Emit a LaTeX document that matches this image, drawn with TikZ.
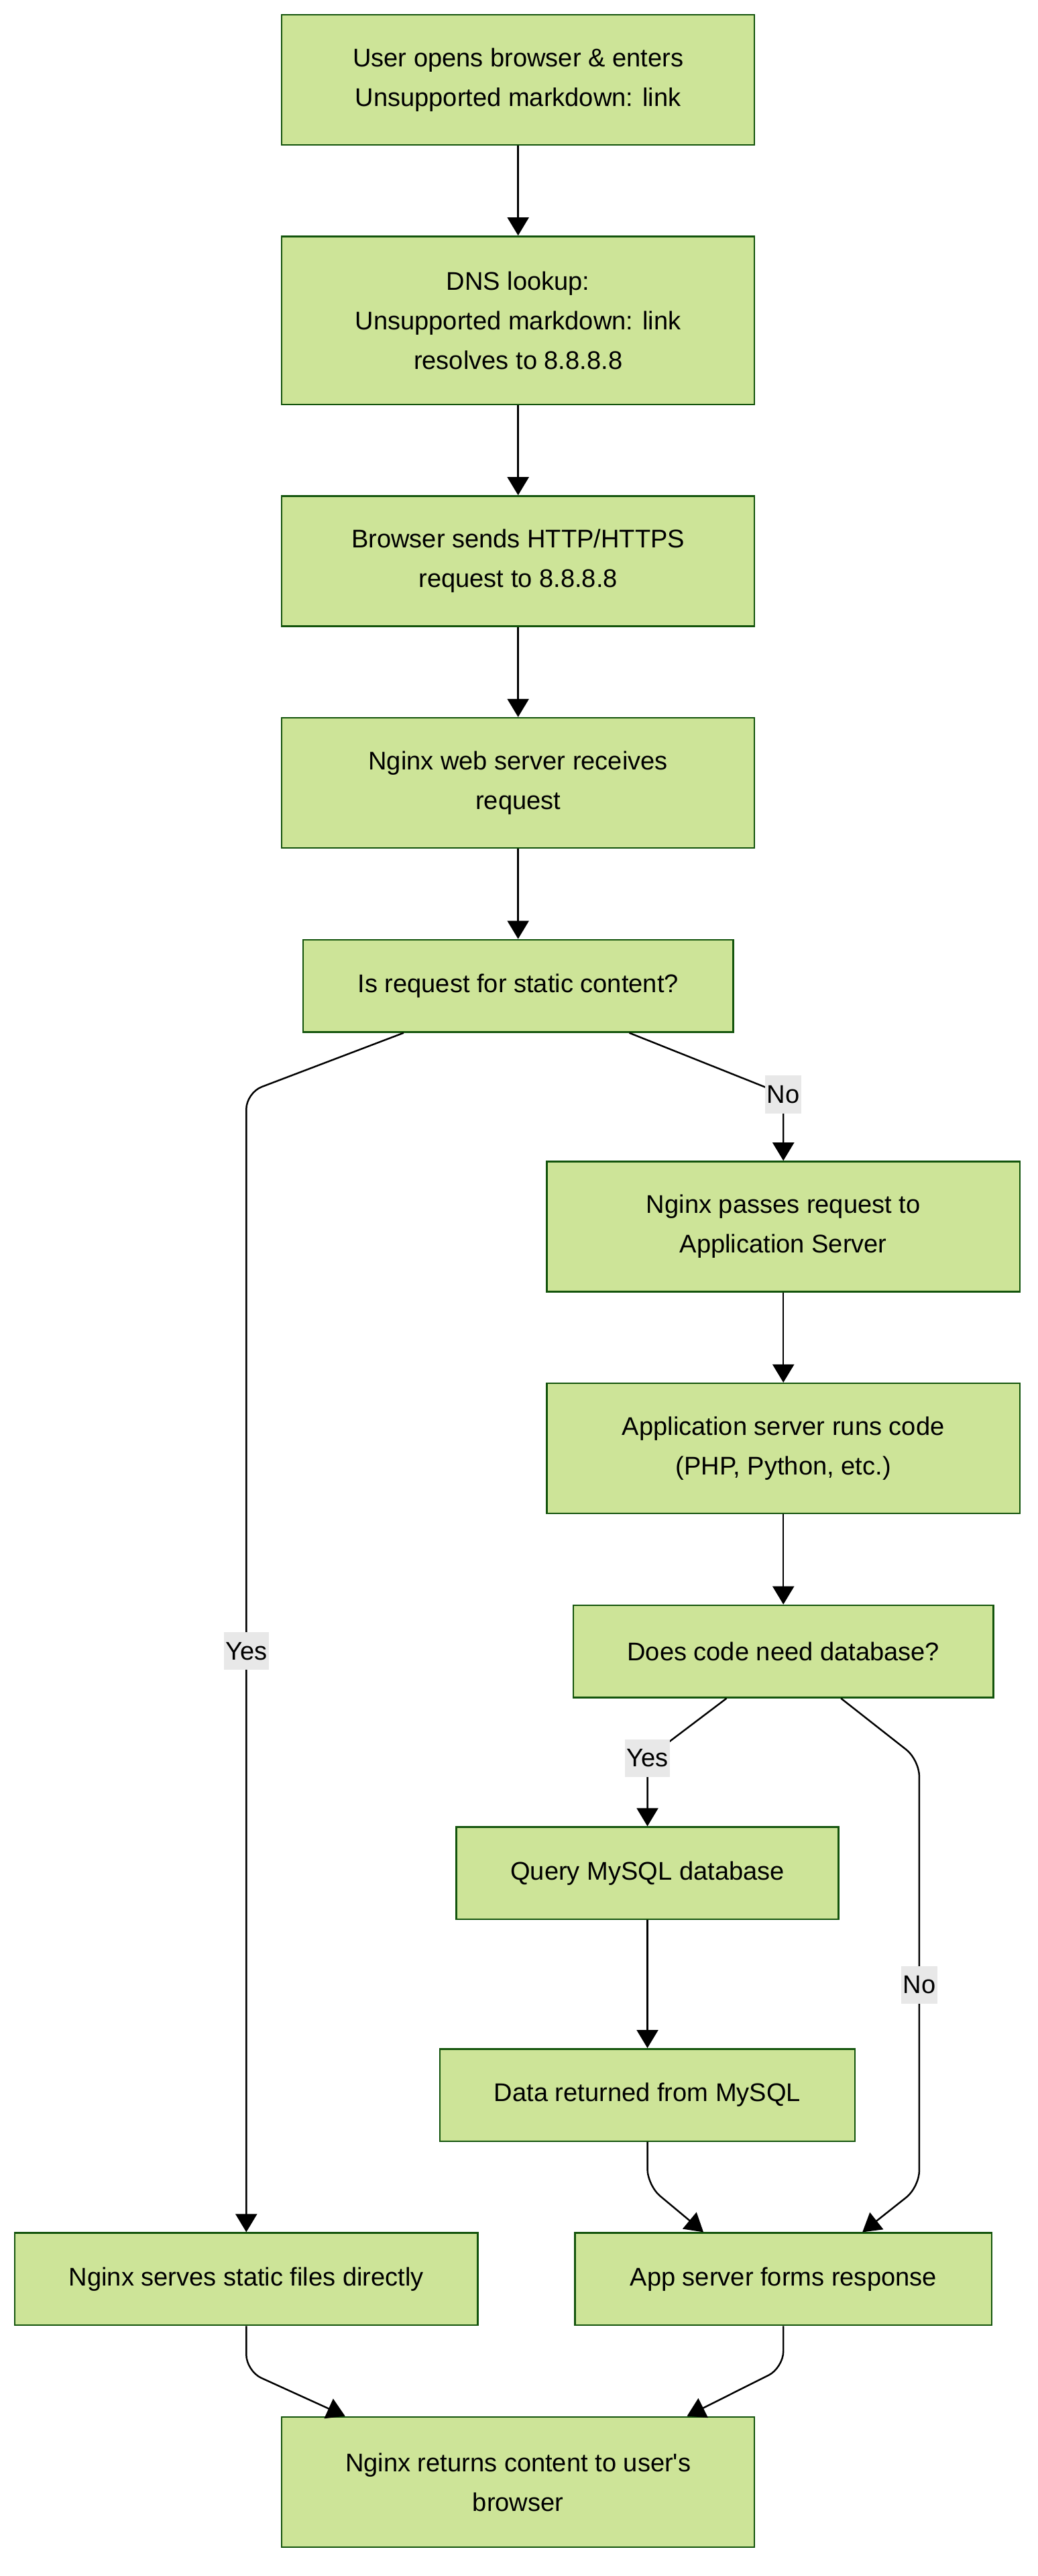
\documentclass[tikz,border=0pt]{standalone}
\usepackage{fontspec}
\setmainfont{Liberation Sans}
\usetikzlibrary{arrows.meta}
\definecolor{boxfill}{HTML}{CDE498}
\definecolor{boxline}{HTML}{13540C}
\definecolor{lblfill}{HTML}{E8E8E8}
\begin{document}
\begin{tikzpicture}[x=1pt,y=-0.997pt,
      box/.style={draw=boxline, fill=boxfill, line width=1pt, align=center, inner sep=0pt, font=\fontsize{15.5}{24}\selectfont},
      lbl/.style={sharp corners, fill=lblfill, inner xsep=1pt, inner ysep=0pt, minimum height=23pt, font=\fontsize{15.5}{24}\selectfont},
      arr/.style={-{Triangle[length=11pt,width=13pt]}, line width=1pt, rounded corners=10pt}]
         \useasboundingbox (0,0) rectangle (630,1567.7);

         \node[box, minimum width=287pt, minimum height=79pt] (open) at (314.5,48.5) {User opens browser \& enters\\ Unsupported markdown: link};
         \node[box, minimum width=287pt, minimum height=102pt] (dns) at (314.5,195) {DNS lookup:\\ Unsupported markdown: link\\ resolves to 8.8.8.8};
         \node[box, minimum width=287pt, minimum height=79pt] (send) at (314.5,341.5) {Browser sends HTTP/HTTPS\\ request to 8.8.8.8};
         \node[box, minimum width=287pt, minimum height=79pt] (recv) at (314.5,476.5) {Nginx web server receives\\ request};
         \node[box, minimum width=261pt, minimum height=56pt] (static) at (314.5,600) {Is request for static content?};
         \node[box, minimum width=287pt, minimum height=79pt] (pass) at (475.5,746.5) {Nginx passes request to\\ Application Server};
         \node[box, minimum width=287pt, minimum height=79pt] (runs) at (475.5,881.5) {Application server runs code\\ (PHP, Python, etc.)};
         \node[box, minimum width=255pt, minimum height=56pt] (needdb) at (475.5,1005) {Does code need database?};
         \node[box, minimum width=232pt, minimum height=56pt] (query) at (393,1140) {Query MySQL database};
         \node[box, minimum width=252pt, minimum height=56pt] (data) at (393,1275) {Data returned from MySQL};
         \node[box, minimum width=281pt, minimum height=56pt] (serve) at (149.5,1387) {Nginx serves static files directly};
         \node[box, minimum width=253pt, minimum height=56pt] (forms) at (475.5,1387) {App server forms response};
         \node[box, minimum width=287pt, minimum height=79pt] (ret) at (314.5,1510.5) {Nginx returns content to user\textquotesingle s\\ browser};

         \draw[arr] (open) -- (dns);
         \draw[arr] (dns) -- (send);
         \draw[arr] (send) -- (recv);
         \draw[arr] (recv) -- (static);
         \draw[arr] ([xshift=-69.5pt]static.south) -- (149.5,665) -- node[lbl, pos=0.49] {Yes} (serve.north);
         \draw[arr] ([xshift=67.5pt]static.south) -- (475.5,666) node[lbl] {No} -- (pass.north);
         \draw[arr] (pass) -- (runs);
         \draw[arr] (runs) -- (needdb);
         \draw[arr] ([xshift=-34.5pt]needdb.south) -- (393,1070) node[lbl] {Yes} -- (query.north);
         \draw[arr] ([xshift=35pt]needdb.south) -- (558,1071) -- node[lbl, pos=0.527] {No} (558,1331) -- ([xshift=48pt]forms.north);
         \draw[arr] (query) -- (data);
         \draw[arr] (data.south) -- (393,1330) -- ([xshift=-48.5pt]forms.north);
         \draw[arr] (serve.south) -- (149.5,1443) -- ([xshift=-105pt]ret.north);
         \draw[arr] (forms.south) -- (475.5,1441) -- ([xshift=102.5pt]ret.north);
      \end{tikzpicture}
\end{document}
